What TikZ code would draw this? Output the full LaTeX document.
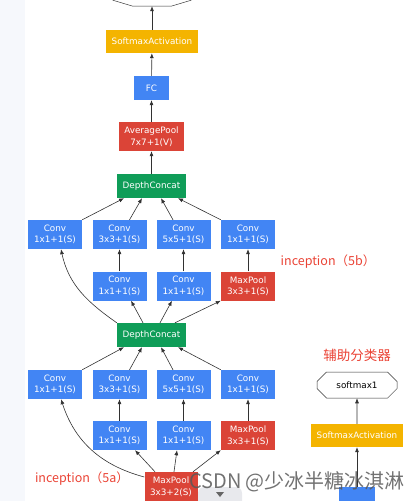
\documentclass[tikz,border=0pt]{standalone}
\usepackage{fontspec}
\setmainfont{DejaVu Sans}
\newfontfamily\cjk{Noto Sans CJK SC}
\usepackage{xcolor}
\definecolor{gblue}{RGB}{66, 133, 244}
\definecolor{gred}{RGB}{219, 68, 55}
\definecolor{ggreen}{RGB}{15, 157, 88}
\definecolor{gyellow}{RGB}{244, 180, 0}
\definecolor{labred}{RGB}{234, 67, 53}
\definecolor{edgegray}{RGB}{50, 50, 50}
\definecolor{stripblue}{RGB}{246, 248, 252}
\definecolor{tabgray}{RGB}{232, 233, 237}
\usetikzlibrary{arrows.meta, shapes.misc}

\tikzset{
  layer/.style={
    inner sep=0pt,
    text=white,
    align=center,
    font=\fontsize{8.8}{11.5}\selectfont,
    minimum width=54pt,
    minimum height=29pt
  },
  conv/.style={layer, fill=gblue},
  pool/.style={layer, fill=gred},
  concat/.style={layer, fill=ggreen, minimum width=69pt, minimum height=24pt},
  act/.style={layer, fill=gyellow, minimum width=92pt, minimum height=23pt},
  outbox/.style={
    chamfered rectangle,
    chamfered rectangle xsep=10pt,
    chamfered rectangle ysep=6pt,
    draw=edgegray,
    line width=0.5pt,
    fill=white,
    inner sep=0pt,
    font=\fontsize{8.8}{11}\selectfont,
    minimum width=80pt,
    minimum height=26pt
  },
  outline/.style={draw=edgegray, line width=0.5pt},
  flow/.style={-{Latex[length=5pt, width=4pt]}, draw=edgegray, line width=0.6pt},
  tag/.style={text=labred, font=\cjk\fontsize{12.5}{14}\selectfont}
}

\begin{document}
\begin{tikzpicture}[x=1pt, y=1pt]
  \useasboundingbox (0,0) rectangle (417,-501);
  \fill[stripblue] (0,0) rectangle (25,-501);

  % main column, top
  \node[inner sep=0pt, minimum width=78pt, minimum height=26pt] (softmax2) at (152,7) {};
  \draw[outline] ([xshift=20pt]softmax2.south west) -- ([xshift=-20pt]softmax2.south east)
    -- ([yshift=6pt]softmax2.south east) -- ([yshift=-6pt]softmax2.north east)
    -- ([xshift=-20pt]softmax2.north east) -- ([xshift=20pt]softmax2.north west)
    -- ([yshift=-6pt]softmax2.north west) -- ([yshift=6pt]softmax2.south west) -- cycle;
  \node[act] (act2) at (152,-41.5) {SoftmaxActivation};
  \node[conv, minimum width=35pt, minimum height=24pt] (fc2) at (151.5,-88) {FC};
  \node[pool, minimum width=65pt] (avgpool) at (151.5,-136.5) {AveragePool\\7x7+1(V)};

  % inception 5b
  \node[concat] (concat5b) at (151.5,-186) {DepthConcat};
  \node[conv] (c5b1) at (55,-234.5) {Conv\\1x1+1(S)};
  \node[conv] (c5b2) at (119.5,-234.5) {Conv\\3x3+1(S)};
  \node[conv] (c5b3) at (183.5,-234.5) {Conv\\5x5+1(S)};
  \node[conv] (c5b4) at (248,-234.5) {Conv\\1x1+1(S)};
  \node[conv] (r5b2) at (119.5,-286) {Conv\\1x1+1(S)};
  \node[conv] (r5b3) at (183.5,-286) {Conv\\1x1+1(S)};
  \node[pool] (pool5b) at (248,-286) {MaxPool\\3x3+1(S)};
  \node[tag] (lab5b) at (328,-262) {inception（5b）};

  % inception 5a
  \node[concat] (concat5a) at (151.5,-335) {DepthConcat};
  \node[conv] (c5a1) at (55,-384.5) {Conv\\1x1+1(S)};
  \node[conv] (c5a2) at (119.5,-384.5) {Conv\\3x3+1(S)};
  \node[conv] (c5a3) at (183.5,-384.5) {Conv\\5x5+1(S)};
  \node[conv] (c5a4) at (248,-384.5) {Conv\\1x1+1(S)};
  \node[conv] (r5a2) at (119.5,-435.5) {Conv\\1x1+1(S)};
  \node[conv] (r5a3) at (183.5,-435.5) {Conv\\1x1+1(S)};
  \node[pool] (pool5a) at (248,-435.5) {MaxPool\\3x3+1(S)};
  \node[pool, minimum width=53pt] (pool4) at (171,-486.5) {MaxPool\\3x3+2(S)};
  \node[tag] (lab5a) at (82,-479) {inception（5a）};

  % auxiliary classifier
  \node[tag, font=\cjk\fontsize{13.5}{15}\selectfont] (labaux) at (357,-355) {辅助分类器};
  \node[outbox] (softmax1) at (357,-385) {softmax1};
  \node[act] (act1) at (357,-435.5) {SoftmaxActivation};
  \node[conv, minimum width=36pt, minimum height=24pt] (fc1) at (357,-499) {};

  \draw[flow] (avgpool) -- (fc2);
  \draw[flow] (fc2) -- (act2);
  \draw[flow] (act2) -- (softmax2);
  \draw[flow] (concat5b) -- (avgpool);

  \draw[flow] (c5b1.north east) -- ([xshift=-27.5pt]concat5b.south);
  \draw[flow] ([xshift=10pt]c5b2.north) -- ([xshift=-9.5pt]concat5b.south);
  \draw[flow] ([xshift=-10.5pt]c5b3.north) -- ([xshift=9.5pt]concat5b.south);
  \draw[flow] (c5b4.north west) -- ([xshift=26.5pt]concat5b.south);
  \draw[flow] (r5b2) -- (c5b2);
  \draw[flow] (r5b3) -- (c5b3);
  \draw[flow] (pool5b) -- (c5b4);
  \draw[flow] (concat5a.north west) to[out=145, in=-78] ([xshift=6pt]c5b1.south);
  \draw[flow] ([xshift=-8.5pt]concat5a.north) -- ([xshift=11.5pt]r5b2.south);
  \draw[flow] ([xshift=8.5pt]concat5a.north) -- ([xshift=-11.5pt]r5b3.south);
  \draw[flow] ([xshift=23.5pt]concat5a.north) -- (pool5b.south west);

  \draw[flow] (c5a1.north east) -- ([xshift=-27.5pt]concat5a.south);
  \draw[flow] ([xshift=10pt]c5a2.north) -- ([xshift=-9.5pt]concat5a.south);
  \draw[flow] ([xshift=-10.5pt]c5a3.north) -- ([xshift=9.5pt]concat5a.south);
  \draw[flow] (c5a4.north west) -- ([xshift=26.5pt]concat5a.south);
  \draw[flow] (r5a2) -- (c5a2);
  \draw[flow] (r5a3) -- (c5a3);
  \draw[flow] (pool5a) -- (c5a4);
  \draw[flow] ([yshift=9.5pt]pool4.west) to[out=165, in=-72] ([xshift=6pt]c5a1.south);
  \draw[flow] ([xshift=-16pt]pool4.north) -- ([xshift=15.5pt]r5a2.south);
  \draw[flow] ([xshift=3pt]pool4.north) -- ([xshift=-6.5pt]r5a3.south);
  \draw[flow] ([xshift=22pt]pool4.north) -- (pool5a.south west);

  \draw[flow] (fc1) -- (act1);
  \draw[flow] (act1) -- (softmax1);

  \fill[tabgray, rounded corners=6pt] (198,-512) rectangle (242,-487);
  \fill[black!60] (216,-492) -- (224,-492) -- (220,-497) -- cycle;
  \node[font=\cjk\fontsize{20}{22}\selectfont, text=black!65, opacity=.85] (mark) at (297,-482) {CSDN @少冰半糖冰淇淋};
\end{tikzpicture}
\end{document}
